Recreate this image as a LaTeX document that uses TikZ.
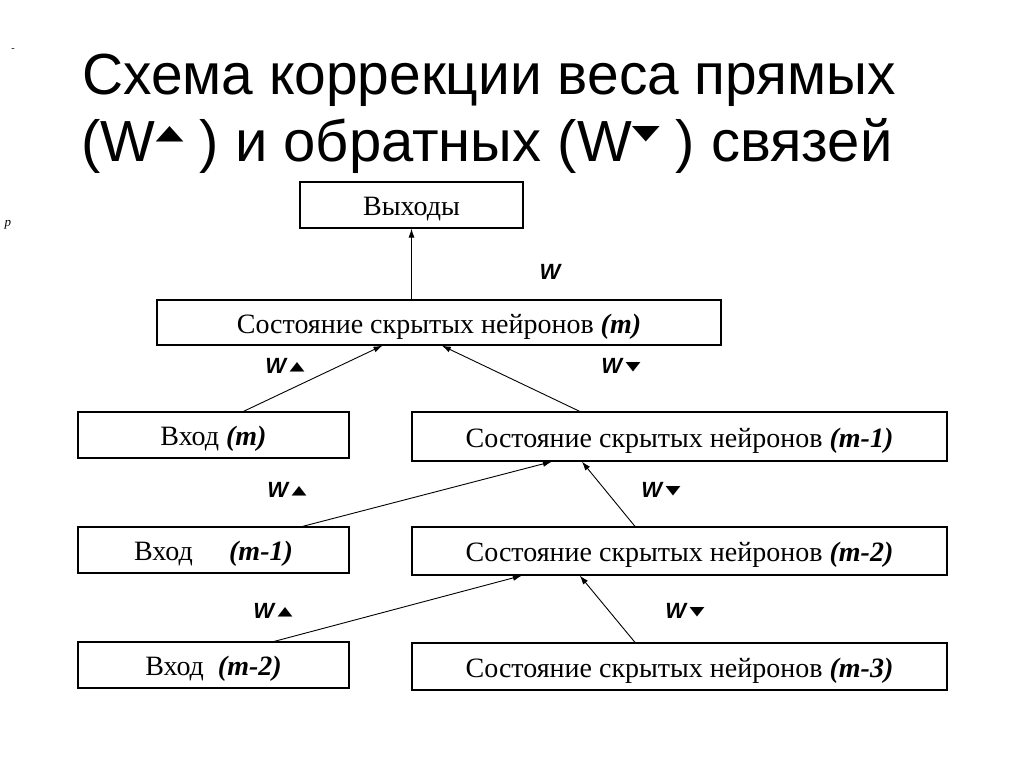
\documentclass[tikz,border=0pt]{standalone}
\usepackage{fontspec}
\usepackage{graphicx}
\setmainfont{Liberation Serif}
\setsansfont{Liberation Sans}
\newfontfamily\dejavu{DejaVu Sans}
\usetikzlibrary{arrows.meta,calc}
\tikzset{
  box/.style={draw, line width=1.2pt, rectangle, inner sep=0pt, text height=23pt, text depth=2pt, font=\fontsize{28}{32}\selectfont},
  arr/.style={line width=0.9pt, -{Latex[length=9pt,width=6pt]}},
  wlab/.style={font=\sffamily\bfseries\itshape\fontsize{22}{24}\selectfont, inner sep=0pt},
  ttl/.style={font=\sffamily\fontsize{58}{62}\selectfont, inner sep=0pt}
}
\newcommand{\mm}[1]{\textbf{\textit{#1}}}
\newcommand{\up}{{\dejavu\raisebox{3pt}{\resizebox{15pt}{8pt}{▲}}}}
\newcommand{\dn}{{\dejavu\raisebox{3pt}{\resizebox{15pt}{8pt}{▼}}}}
\newcommand{\tup}{{\dejavu\raisebox{22pt}{\resizebox{28pt}{13pt}{▲}}}}
\newcommand{\tdn}{{\dejavu\raisebox{22pt}{\resizebox{28pt}{13pt}{▼}}}}
\begin{document}
\begin{tikzpicture}[x=1pt,y=-1pt]
\useasboundingbox[fill=white] (0,0) rectangle (1024,768);
% title
\node[ttl] (t1) at (489,80) {\scalebox{0.98}[1]{Схема коррекции веса прямых}};
\node[ttl] (t2) at (487,146) {(W\tup\ ) и обратных (W\tdn\ ) связей};
\node[font=\fontsize{10}{10}\selectfont, inner sep=0pt] (dash) at (13,50) {-};
\node[font=\itshape\fontsize{13}{13}\selectfont, inner sep=0pt] (pp) at (8,225) {p};
% boxes
\node[box, minimum width=223pt, minimum height=46pt] (out) at (411.5,205) {Выходы};
\node[box, minimum width=564pt, minimum height=45pt] (hm) at (439,322.5) {Состояние скрытых нейронов \mm{(m)}};
\node[box, minimum width=271pt, minimum height=46pt] (inm) at (213.5,435) {Вход \mm{(m)}};
\node[box, minimum width=535pt, minimum height=49pt] (h1) at (679.5,436.5) {Состояние скрытых нейронов \mm{(m-1)}};
\node[box, minimum width=271pt, minimum height=46pt] (in1) at (213.5,550) {Вход\hspace{1.3em}\mm{(m-1)}};
\node[box, minimum width=535pt, minimum height=48pt] (h2) at (679.5,551) {Состояние скрытых нейронов \mm{(m-2)}};
\node[box, minimum width=271pt, minimum height=46pt] (in2) at (213.5,665) {Вход\hspace{0.5em}\mm{(m-2)}};
\node[box, minimum width=535pt, minimum height=47pt] (h3) at (679.5,666.5) {Состояние скрытых нейронов \mm{(m-3)}};
% arrows
\draw[arr] (out.south |- hm.north) -- (out.south);
\draw[arr] ($(inm.north west)!0.61!(inm.north east)$) -- ($(hm.south west)!0.40!(hm.south east)$);
\draw[arr] ($(h1.north west)!0.314!(h1.north east)$) -- ($(hm.south west)!0.505!(hm.south east)$);
\draw[arr] ($(in1.north west)!0.827!(in1.north east)$) -- ($(h1.south west)!0.262!(h1.south east)$);
\draw[arr] ($(h2.north west)!0.417!(h2.north east)$) -- ($(h1.south west)!0.318!(h1.south east)$);
\draw[arr] ($(in2.north west)!0.723!(in2.north east)$) -- ($(h2.south west)!0.206!(h2.south east)$);
\draw[arr] ($(h3.north west)!0.417!(h3.north east)$) -- ($(h2.south west)!0.314!(h2.south east)$);
% labels
\node[wlab] (w0) at (550,272) {W};
\node[wlab] (wa1) at (285,366) {W\,\up};
\node[wlab] (wb1) at (621,366) {W\,\dn};
\node[wlab] (wa2) at (287,490) {W\,\up};
\node[wlab] (wb2) at (661,490) {W\,\dn};
\node[wlab] (wa3) at (273,611) {W\,\up};
\node[wlab] (wb3) at (685,611) {W\,\dn};
\end{tikzpicture}
\end{document}
